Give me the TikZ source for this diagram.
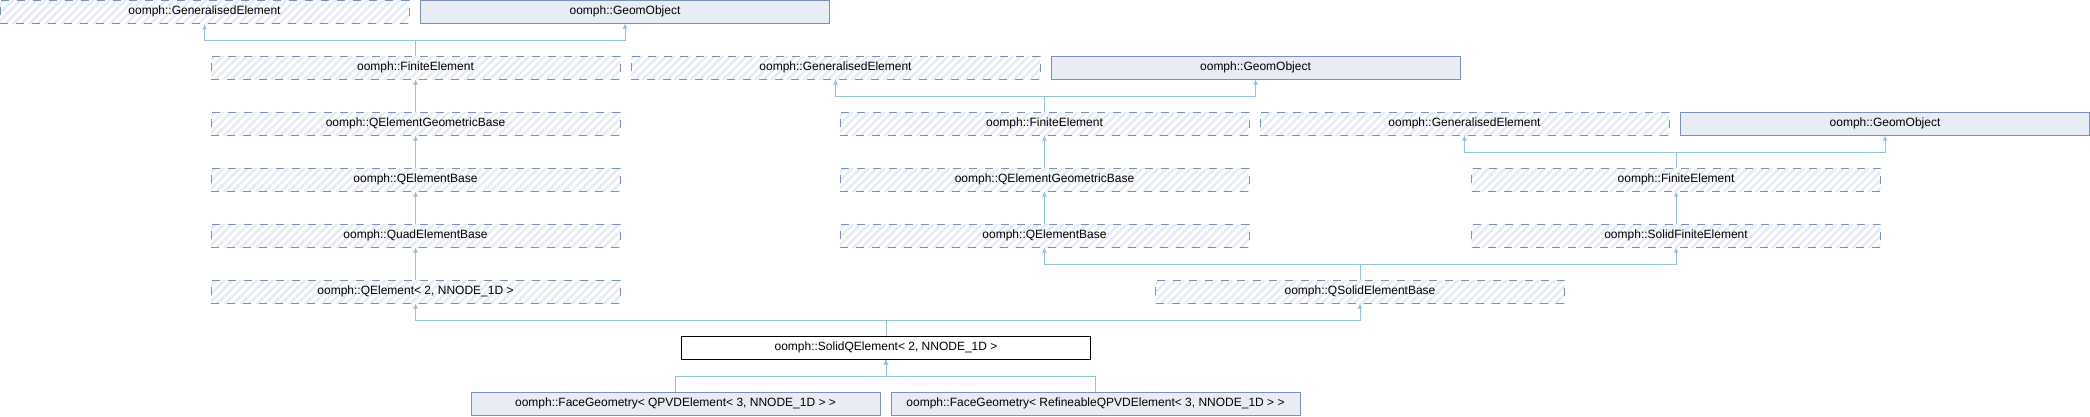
\documentclass[tikz,border=0pt]{standalone}
\usepackage{fontspec}
\setmainfont{Liberation Sans}
\usetikzlibrary{arrows.meta,patterns.meta}
\definecolor{edgeblue}{HTML}{8CC3E6}
\definecolor{boxline}{HTML}{7890C8}
\definecolor{hatch}{HTML}{E7EBF4}
\definecolor{geomfill}{HTML}{E8ECF4}
\definecolor{geomline}{HTML}{7A8FC2}

\begin{document}
\begin{tikzpicture}[x=1pt,y=-1pt,
  cls/.style={minimum width=409pt,minimum height=23pt,inner sep=0pt,line width=1pt,
    font=\fontsize{12}{14}\selectfont},
  undoc/.style={cls,draw=boxline,dash pattern=on 8pt off 8pt,
    pattern={Lines[angle=45,distance=5.7pt,line width=2.6pt]},pattern color=hatch},
  geom/.style={cls,draw=geomline,fill=geomfill},
  this/.style={cls,draw=black,fill=white},
  inh/.style={draw=edgeblue,line width=1pt,-{Latex[length=5pt,width=5pt]}}]
\useasboundingbox (0,0) rectangle (2090,416);
\node[undoc] (ge0) at (204.5,11.5) {oomph::GeneralisedElement};
\node[geom] (go0) at (625,11.5) {oomph::GeomObject};
\node[undoc] (fe1) at (415.5,67.5) {oomph::FiniteElement};
\node[undoc] (ge1) at (835.5,67.5) {oomph::GeneralisedElement};
\node[geom] (go1) at (1255.5,67.5) {oomph::GeomObject};
\node[undoc] (qegb2) at (415.5,123.5) {oomph::QElementGeometricBase};
\node[undoc] (fe2) at (1044.5,123.5) {oomph::FiniteElement};
\node[undoc] (ge2) at (1464.5,123.5) {oomph::GeneralisedElement};
\node[geom] (go2) at (1885,123.5) {oomph::GeomObject};
\node[undoc] (qeb3) at (415.5,179.5) {oomph::QElementBase};
\node[undoc] (qegb3) at (1044.5,179.5) {oomph::QElementGeometricBase};
\node[undoc] (fe3) at (1676,179.5) {oomph::FiniteElement};
\node[undoc] (quad4) at (415.5,235.5) {oomph::QuadElementBase};
\node[undoc] (qeb4) at (1044.5,235.5) {oomph::QElementBase};
\node[undoc] (sfe4) at (1676,235.5) {oomph::SolidFiniteElement};
\node[undoc] (qe5) at (415.5,291.5) {oomph::QElement< 2, NNODE\_1D >};
\node[undoc] (qseb5) at (1360,291.5) {oomph::QSolidElementBase};
\node[this] (sqe) at (886,347.5) {oomph::SolidQElement< 2, NNODE\_1D >};
\node[geom] (fg1) at (675.5,403.5) {oomph::FaceGeometry< QPVDElement< 3, NNODE\_1D > >};
\node[geom] (fg2) at (1095.5,403.5) {oomph::FaceGeometry< RefineableQPVDElement< 3, NNODE\_1D > >};
\coordinate (j1) at (415.5,40);
\coordinate (j2) at (1044.5,96);
\coordinate (j3) at (1676,152);
\coordinate (j5) at (1360,264);
\coordinate (j6) at (886,320);
\coordinate (j7) at (886,376);
\draw[inh] (fe1.north) -- (j1) -| (ge0.south);
\draw[inh] (fe1.north) -- (j1) -| (go0.south);
\draw[inh] (qegb2) -- (fe1);
\draw[inh] (qeb3) -- (qegb2);
\draw[inh] (quad4) -- (qeb3);
\draw[inh] (qe5) -- (quad4);
\draw[inh] (fe2.north) -- (j2) -| (ge1.south);
\draw[inh] (fe2.north) -- (j2) -| (go1.south);
\draw[inh] (qegb3) -- (fe2);
\draw[inh] (qeb4) -- (qegb3);
\draw[inh] (fe3.north) -- (j3) -| (ge2.south);
\draw[inh] (fe3.north) -- (j3) -| (go2.south);
\draw[inh] (sfe4) -- (fe3);
\draw[inh] (qseb5.north) -- (j5) -| (qeb4.south);
\draw[inh] (qseb5.north) -- (j5) -| (sfe4.south);
\draw[inh] (sqe.north) -- (j6) -| (qe5.south);
\draw[inh] (sqe.north) -- (j6) -| (qseb5.south);
\draw[inh] (fg1.north) |- (j7) -- (sqe.south);
\draw[inh] (fg2.north) |- (j7) -- (sqe.south);
\end{tikzpicture}
\end{document}
